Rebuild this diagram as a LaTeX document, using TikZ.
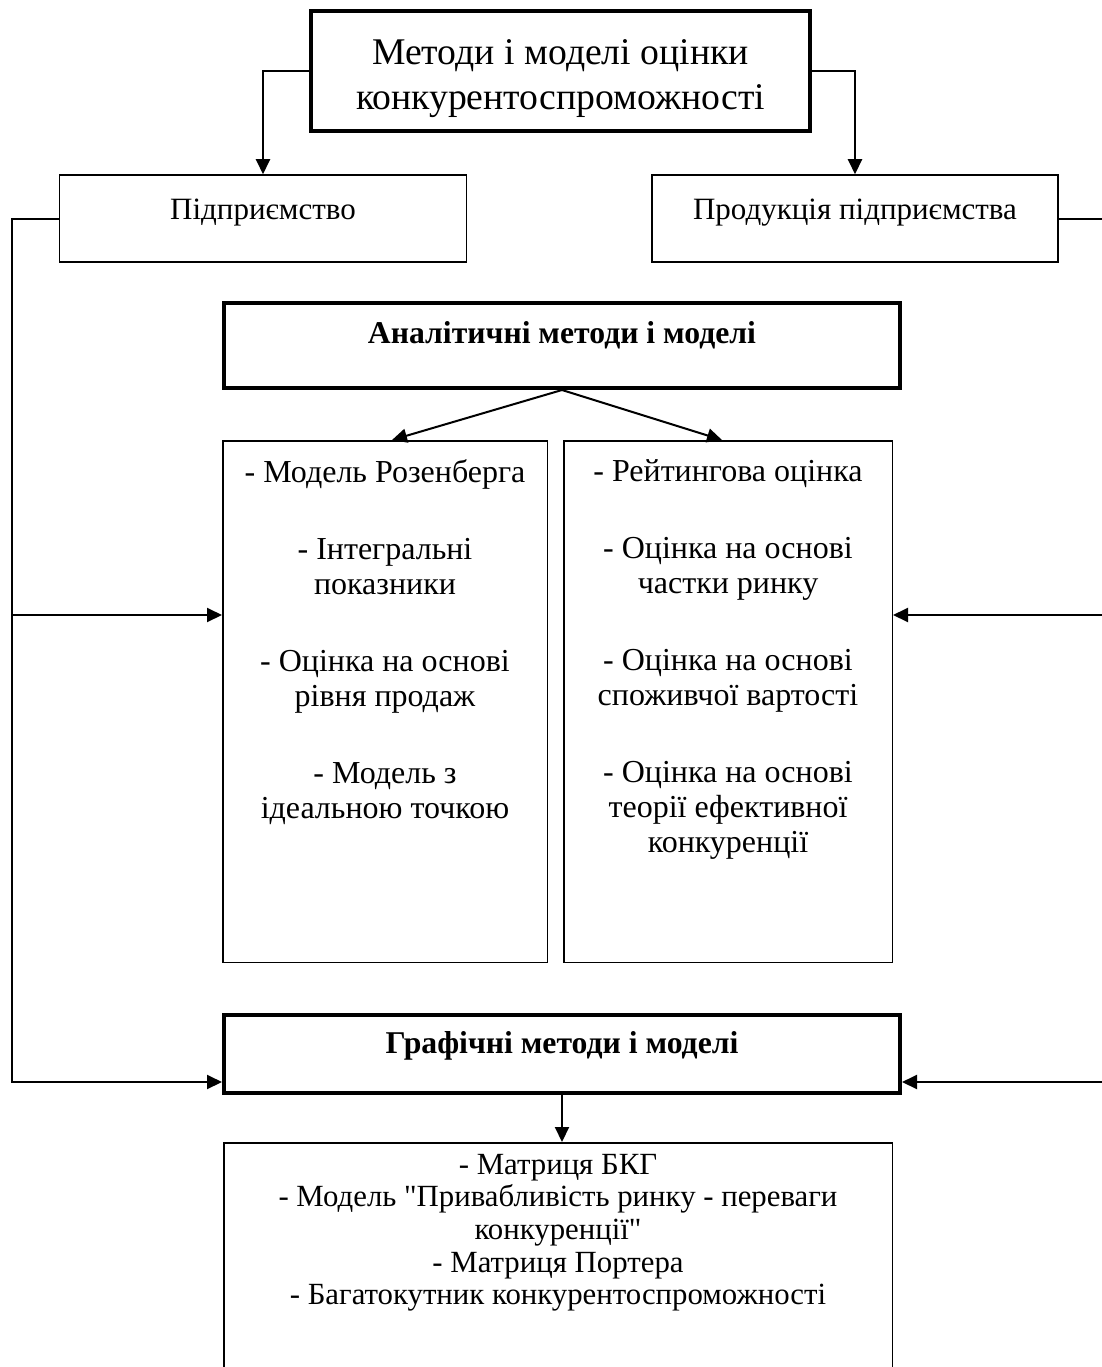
\documentclass[tikz,border=0pt]{standalone}
\usepackage{fontspec}
\setmainfont{Liberation Serif}[Ligatures=TeXOff]
\usetikzlibrary{arrows.meta,positioning,calc}

\begin{document}
\begin{tikzpicture}[x=1pt, y=-1pt, >={Triangle[length=15pt,width=14pt]},
	   box/.style={draw, line width=1.5pt, inner sep=0pt},
	   hbox/.style={draw, line width=4pt, inner sep=0pt},
	   txt/.style={align=center, inner sep=0pt, font=\fontsize{31}{35}\selectfont},
	   coltxt/.style={align=center, inner sep=0pt, anchor=north, font=\fontsize{32}{35}\selectfont},
	   conn/.style={line width=2pt}]
	  \useasboundingbox (0,0) rectangle (1102,1367);
	  % boxes
	  \node[hbox, minimum width=499pt, minimum height=120pt] (top) at (560.5,71) {};
	  \node[box, minimum width=407pt, minimum height=87pt] (firm) at (263,218.5) {};
	  \node[box, minimum width=406pt, minimum height=87pt] (prod) at (855,218.5) {};
	  \node[hbox, minimum width=676pt, minimum height=85pt] (anal) at (562,345.5) {};
	  \node[box, minimum width=324.5pt, minimum height=521.5pt] (lcol) at (385,701.5) {};
	  \node[box, minimum width=328.5pt, minimum height=521.5pt] (rcol) at (728,701.5) {};
	  \node[hbox, minimum width=676pt, minimum height=78pt] (graph) at (562,1054) {};
	  \node[box, minimum width=668.5pt, minimum height=256.5pt] (list) at (558,1271) {};
	  % texts
	  \node[txt, font=\fontsize{37.7}{45}\selectfont] (toptxt) at ([yshift=-8pt]top.center) {Методи і моделі оцінки\\конкурентоспроможності};
	  \node[txt] (firmtxt) at ([yshift=-38pt]firm.north) {Підприємство};
	  \node[txt] (prodtxt) at ([yshift=-38pt]prod.north) {Продукція підприємства};
	  \node[txt, font=\fontsize{31.7}{35}\selectfont\bfseries] (analtxt) at ([yshift=-34pt]anal.north) {Аналітичні методи і моделі};
	  \node[txt, font=\fontsize{31.7}{35}\selectfont\bfseries] (graphtxt) at ([yshift=-33pt]graph.north) {Графічні методи і моделі};
	  \node[coltxt] (ltxt) at ([yshift=-19pt]lcol.north) {- Модель Розенберга\\[42pt]
	    - Інтегральні\\показники\\[42pt]
	    - Оцінка на основі\\рівня продаж\\[42pt]
	    - Модель з\\ідеальною точкою};
	  \node[coltxt] (rtxt) at ([yshift=-19pt]rcol.north) {- Рейтингова оцінка\\[42pt]
	    - Оцінка на основі\\частки ринку\\[42pt]
	    - Оцінка на основі\\споживчої вартості\\[42pt]
	    - Оцінка на основі\\теорії ефективної\\конкуренції};
	  \node[coltxt, font=\fontsize{30.8}{32.6}\selectfont] (listtxt) at ([yshift=-12pt]list.north) {- Матриця БКГ\\
	    - Модель "Привабливість ринку - переваги\\конкуренції"\\
	    - Матриця Портера\\
	    - Багатокутник конкурентоспроможності};
	  % connectors
	  \coordinate (lturn) at (12,1082);
	  \coordinate (lbr) at (12,615);
	  \coordinate (rturn) at (1104,1082);
	  \coordinate (rbr) at (1104,615);
	  \draw[conn,->] (top.west) -| (firm.north);
	  \draw[conn,->] (top.east) -| (prod.north);
	  \draw[conn,->] (firm.west) -| (lturn) -- (lturn -| graph.west);
	  \draw[conn,->] (lbr) -- (lbr -| lcol.west);
	  \draw[conn,->] (prod.east) -| (rturn) -- (rturn -| graph.east);
	  \draw[conn,->] (rbr) -- (rbr -| rcol.east);
	  \draw[conn,->] (anal.south) -- ([xshift=7pt]lcol.north);
	  \draw[conn,->] (anal.south) -- ([xshift=-6pt]rcol.north);
	  \draw[conn,->] (graph.south) -- (graph.south |- list.north);
	\end{tikzpicture}
\end{document}
